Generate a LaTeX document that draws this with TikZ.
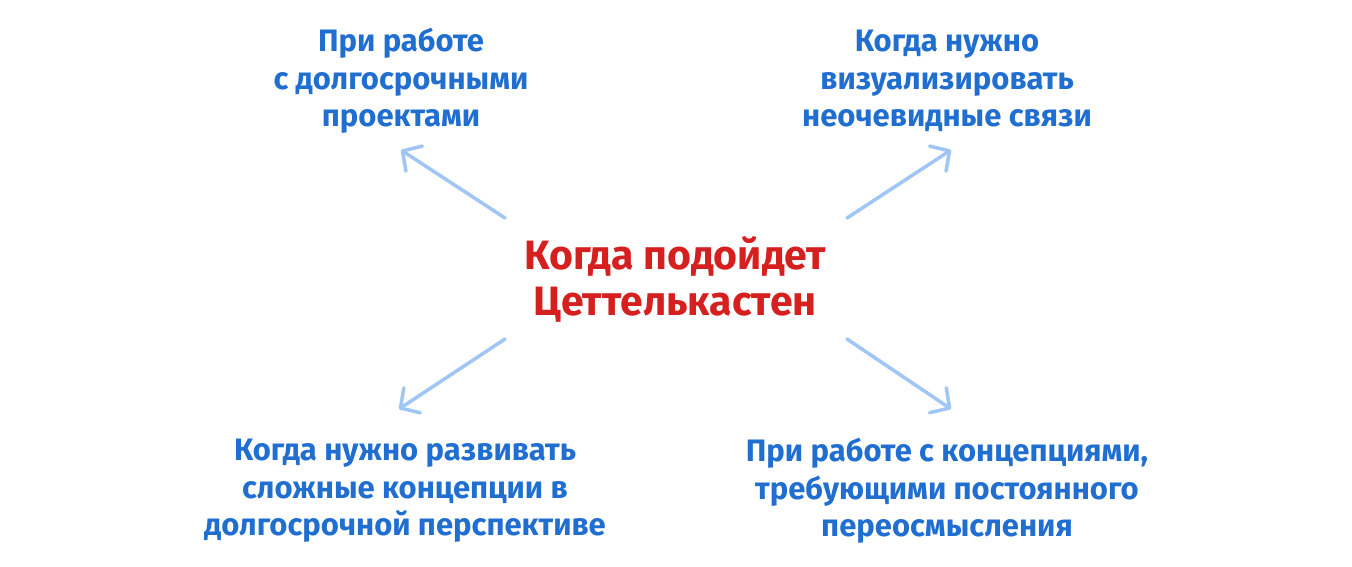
\documentclass[tikz,border=0pt]{standalone}
\usepackage{fontspec}
\setmainfont{Fira Sans}
\usetikzlibrary{arrows.meta}
\definecolor{tblue}{HTML}{1F6ED0}
\definecolor{tred}{HTML}{D61F1F}
\definecolor{tarrow}{HTML}{A0C6F5}
\begin{document}
\begin{tikzpicture}[x=1pt,y=-1pt,
  leaf/.style={align=center, text=tblue, font=\fontsize{31}{37.5}\selectfont\bfseries},
  root/.style={align=center, text=tred, font=\fontsize{41}{46}\selectfont\bfseries},
  link/.style={draw=tarrow, line width=3.5pt, line cap=round, -{Straight Barb[length=14pt,width=30pt,line width=3.5pt,round]}}]
\useasboundingbox[fill=white] (0,0) rectangle (1352,566);
\node[root] (nid0) at (675,279){Когда подойдет\\Цеттелькастен};
\node[leaf] (nid1) at (401,81){При работе\\с долгосрочными\\проектами};
\node[leaf] (nid2) at (947,81){Когда нужно\\визуализировать\\неочевидные связи};
\node[leaf] (nid3) at (405,491){Когда нужно развивать\\сложные концепции в\\долгосрочной перспективе};
\node[leaf] (nid4) at (947,491){При работе с концепциями,\\требующими постоянного\\переосмысления};
\coordinate (aid1) at (505,218);
\coordinate (bid1) at (401,150);
\coordinate (aid2) at (847,218);
\coordinate (bid2) at (951,150);
\coordinate (aid3) at (505,339);
\coordinate (bid3) at (399,409);
\coordinate (aid4) at (847,339);
\coordinate (bid4) at (951,409);
\draw[link](aid1) -- (bid1);
\draw[link](aid2) -- (bid2);
\draw[link](aid3) -- (bid3);
\draw[link](aid4) -- (bid4);
\end{tikzpicture}
\end{document}
